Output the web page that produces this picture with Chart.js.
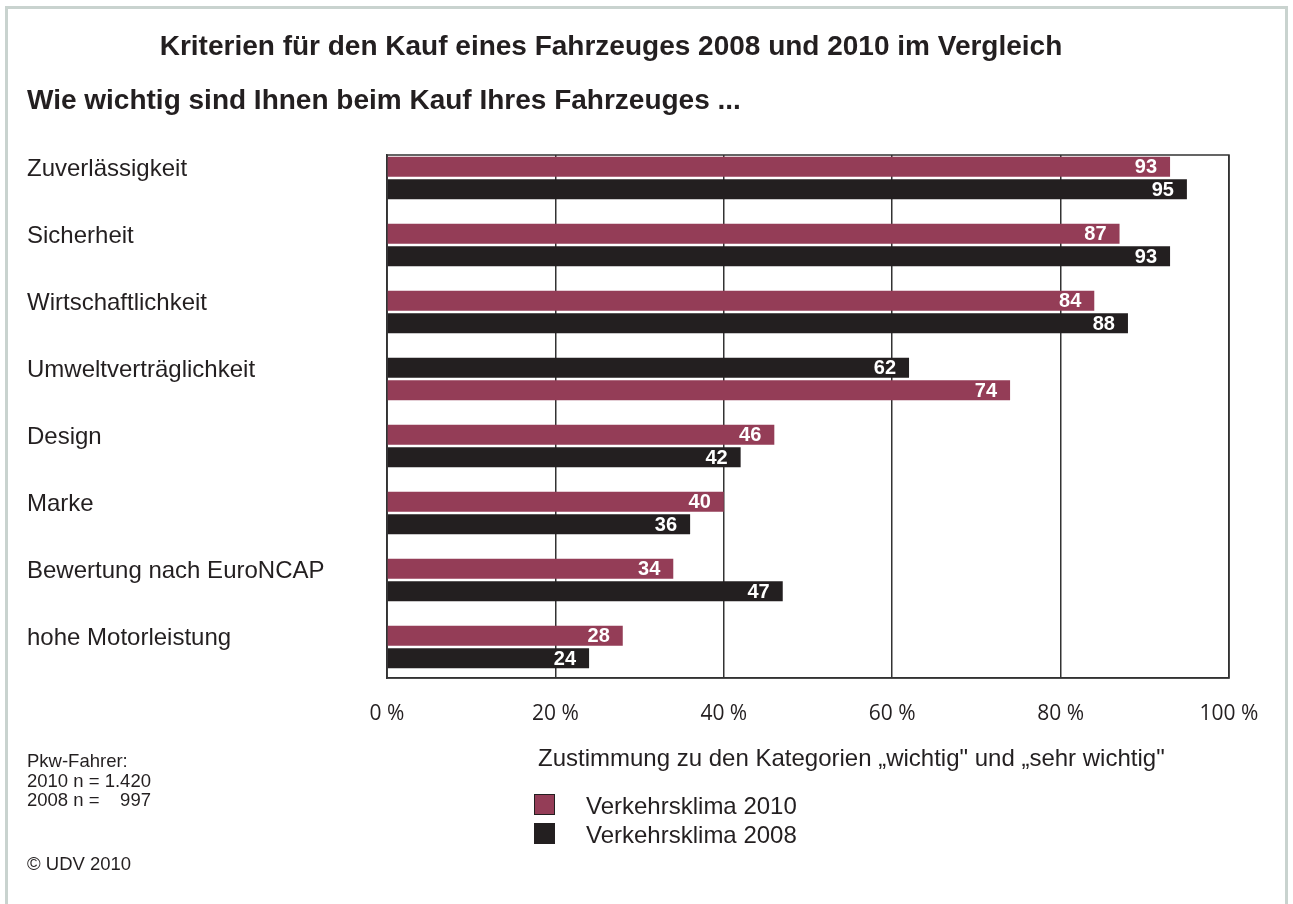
<!DOCTYPE html>
<html lang="de">
<head>
<meta charset="utf-8">
<title>Kriterien für den Kauf eines Fahrzeuges</title>
<script src="https://cdn.jsdelivr.net/npm/chart.js@4/dist/chart.umd.min.js"></script>
<style>
  body { margin: 0; background: #fff; font-family: "Liberation Sans", Arial, sans-serif; color: #231f20; }
  #wrap { position: relative; width: 1293px; height: 904px; overflow: hidden; }
  #frame { position: absolute; left: 5px; top: 6px; width: 1283px; height: 920px; border: 3px solid #c9d3cf; box-sizing: border-box; }
  #chartbox { position: absolute; left: 0; top: 0; width: 1293px; height: 904px; }
  .txt { position: absolute; white-space: pre; line-height: 1; }
  .title { left: 0; width: 1222px; text-align: center; top: 32px; font-size: 28px; font-weight: bold; }
  .sub { left: 27px; top: 86px; font-size: 28px; font-weight: bold; }
  .note { left: 27px; font-size: 18.5px; }
  .axis { left: 538px; top: 746px; font-size: 24px; }
  .leg { font-size: 24px; }
  .sw { position: absolute; width: 19px; height: 19px; border: 1px solid #231f20; }
</style>
</head>
<body>
<div id="wrap">
  <div id="frame"></div>
  <div id="chartbox"><canvas id="grafico"></canvas></div>
  <div class="txt title">Kriterien für den Kauf eines Fahrzeuges 2008 und 2010 im Vergleich</div>
  <div class="txt sub">Wie wichtig sind Ihnen beim Kauf Ihres Fahrzeuges ...</div>
  <div class="txt axis">Zustimmung zu den Kategorien „wichtig" und „sehr wichtig"</div>
  <div id="legende"></div>
  <div class="txt note" style="top:752px">Pkw-Fahrer:</div>
  <div class="txt note" style="top:772px">2010 n = 1.420</div>
  <div class="txt note" style="top:791px">2008 n =    997</div>
  <div class="txt note" style="top:855px">© UDV 2010</div>
</div>
<script>
const kategorien = ['Zuverlässigkeit', 'Sicherheit', 'Wirtschaftlichkeit', 'Umweltverträglichkeit',
  'Design', 'Marke', 'Bewertung nach EuroNCAP', 'hohe Motorleistung'];
const werte2010 = [93, 87, 84, 74, 46, 40, 34, 28];
const werte2008 = [95, 93, 88, 62, 42, 36, 47, 24];
// im Original steht bei Umweltverträglichkeit 2008 oben
const vertauscht = [false, false, false, true, false, false, false, false];
const xTicks = ['0 %', '20 %', '40 %', '60 %', '80 %', '100 %'];

const farbe2010 = '#943d57';
const farbe2008 = '#231f20';

const oben = kategorien.map((k, i) => ({ x: vertauscht[i] ? werte2008[i] : werte2010[i], y: i }));
const unten = kategorien.map((k, i) => ({ x: vertauscht[i] ? werte2010[i] : werte2008[i], y: i }));
const obenFarbe = kategorien.map((k, i) => vertauscht[i] ? farbe2008 : farbe2010);
const untenFarbe = kategorien.map((k, i) => vertauscht[i] ? farbe2010 : farbe2008);

// Legende
const legende = document.getElementById('legende');
[['Verkehrsklima 2010', farbe2010, 794], ['Verkehrsklima 2008', farbe2008, 823]].forEach(([txt, col, y]) => {
  const sw = document.createElement('div');
  sw.className = 'sw';
  sw.style.left = '534px';
  sw.style.top = y + 'px';
  sw.style.background = col;
  legende.appendChild(sw);
  const t = document.createElement('div');
  t.className = 'txt leg';
  t.style.left = '586px';
  t.style.top = y + 'px';
  t.textContent = txt;
  legende.appendChild(t);
});

const rahmen = {
  id: 'rahmen',
  beforeDatasetsDraw(chart) {
    const { ctx, chartArea: a } = chart;
    ctx.save();
    ctx.strokeStyle = '#333';
    ctx.lineWidth = 1.5;
    ctx.strokeRect(a.left, a.top, a.right - a.left, a.bottom - a.top);
    ctx.restore();
  }
};

const werteText = {
  id: 'werteText',
  afterDatasetsDraw(chart) {
    const ctx = chart.ctx;
    ctx.save();
    ctx.fillStyle = '#fff';
    ctx.font = 'bold 20px "Liberation Sans", Arial, sans-serif';
    ctx.textAlign = 'right';
    ctx.textBaseline = 'middle';
    chart.data.datasets.forEach((ds, d) => {
      chart.getDatasetMeta(d).data.forEach((bar, i) => {
        ctx.fillText(ds.data[i].x, bar.x - 13, bar.y + 1);
      });
    });
    ctx.restore();
  }
};

const ctx = document.getElementById('grafico').getContext('2d');
const grafico = new Chart(ctx, {
  type: 'bar',
  data: {
    datasets: [
      { label: 'oben', data: oben, backgroundColor: obenFarbe },
      { label: 'unten', data: unten, backgroundColor: untenFarbe }
    ]
  },
  options: {
    indexAxis: 'y',
    responsive: true,
    maintainAspectRatio: false,
    animation: false,
    categoryPercentage: 0.672,
    barPercentage: 0.89,
    layout: { padding: { left: 27, top: 155, right: 64, bottom: 0 } },
    plugins: { legend: { display: false }, tooltip: { enabled: false } },
    scales: {
      x: {
        min: 0,
        max: 100,
        afterFit: (s) => { s.height = 904 - 678; },
        afterBuildTicks: (s) => { s.ticks = xTicks.map((t, i) => ({ value: i * 20 })); },
        ticks: {
          padding: 23,
          color: '#231f20',
          font: { family: '"Open Sans", sans-serif', size: 21 },
          callback: (v, i) => xTicks[i]
        },
        grid: { color: '#333', lineWidth: 1.5, drawTicks: false },
        border: { color: '#333', width: 1.5 }
      },
      y: {
        type: 'linear',
        reverse: true,
        offset: false,
        min: -0.343,
        max: 7.463,
        afterFit: (s) => { s.width = 360; },
        afterBuildTicks: (s) => { s.ticks = kategorien.map((k, i) => ({ value: i })); },
        ticks: {
          crossAlign: 'far',
          labelOffset: -9,
          color: '#231f20',
          font: { family: '"Liberation Sans", Arial, sans-serif', size: 24 },
          callback: (v) => kategorien[v]
        },
        grid: { display: false, drawTicks: false, offset: false },
        border: { color: '#333', width: 1.5 }
      }
    }
  },
  plugins: [rahmen, werteText]
});
</script>
</body>
</html>
